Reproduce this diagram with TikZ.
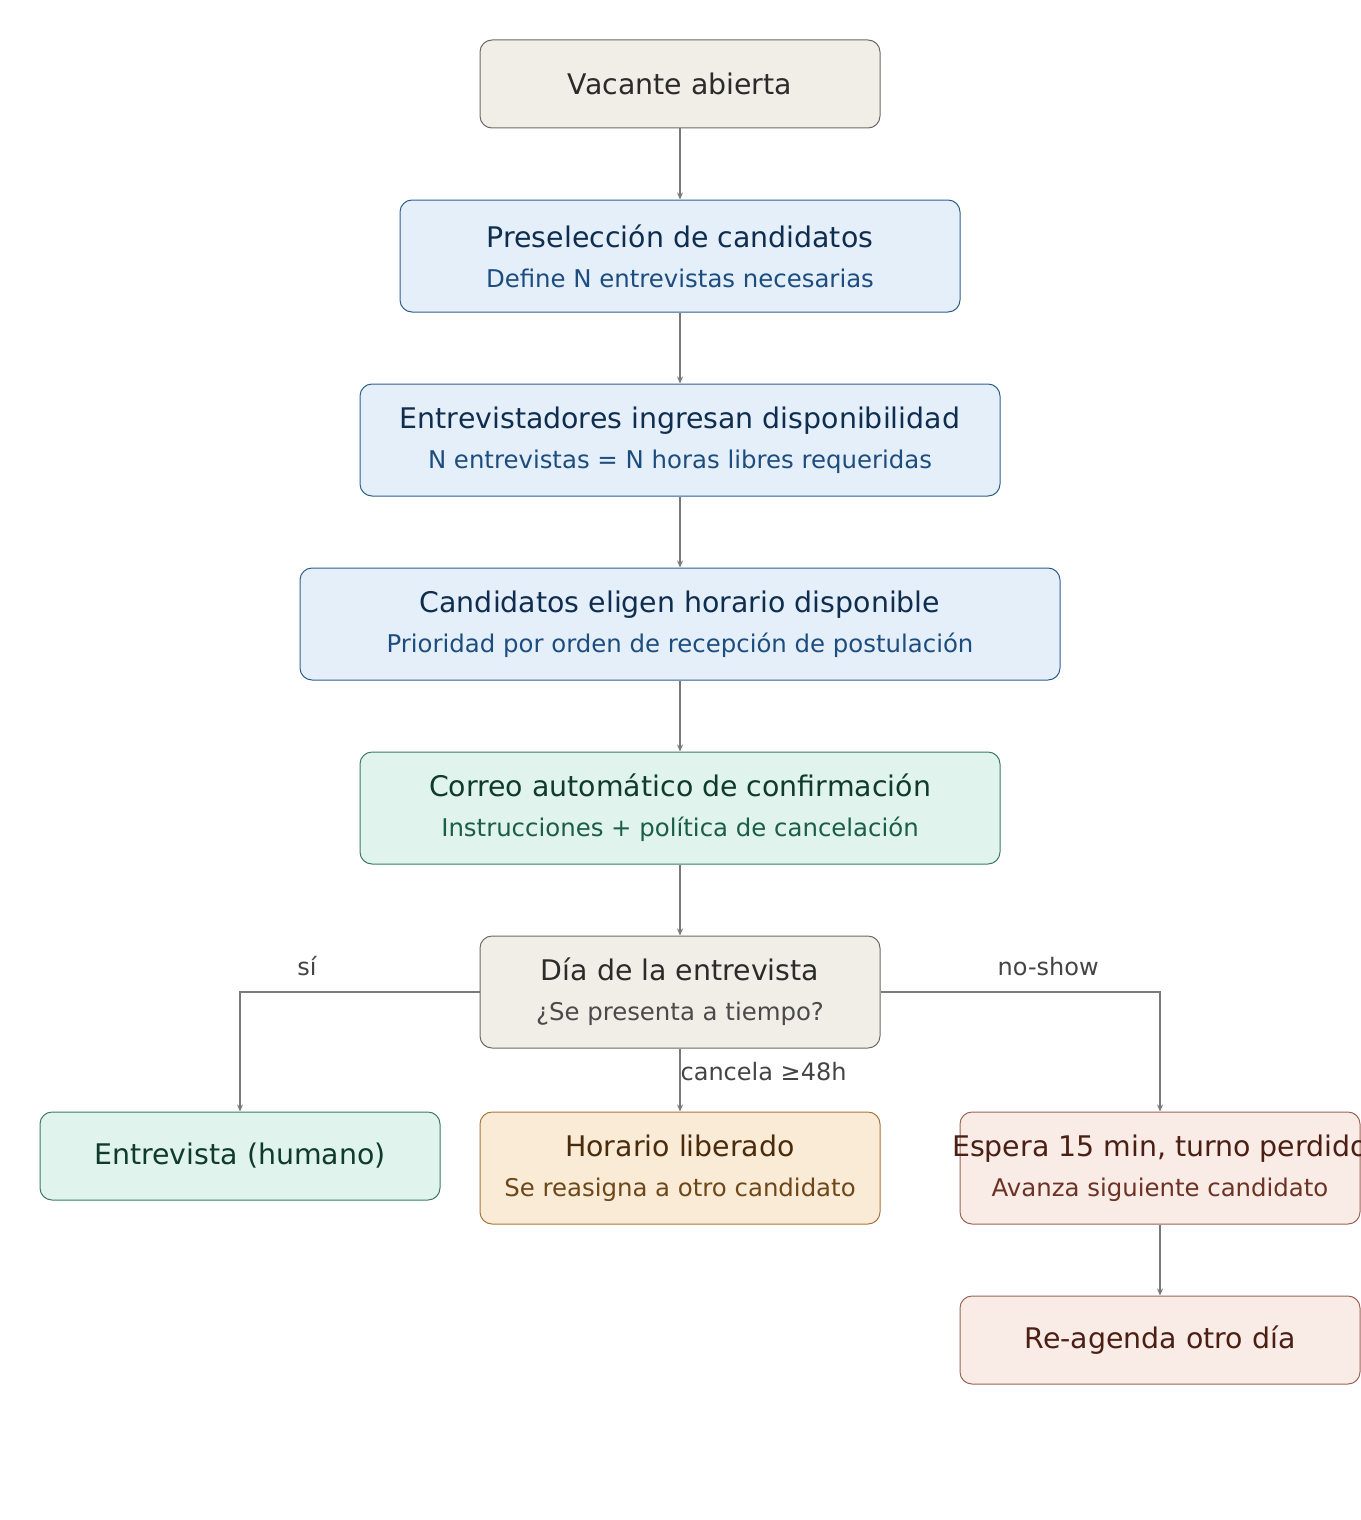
\documentclass[tikz,border=0pt]{standalone}
\usepackage{fontspec}
\setmainfont{DejaVu Sans}
\usetikzlibrary{arrows.meta}

\definecolor{grisfondo}{HTML}{F1EEE8}
\definecolor{grisborde}{HTML}{6E6A64}
\definecolor{gristexto}{HTML}{2B2B2B}
\definecolor{grissub}{HTML}{4A4A4A}
\definecolor{azulfondo}{HTML}{E4EFFA}
\definecolor{azulborde}{HTML}{2F5F8F}
\definecolor{azultexto}{HTML}{0F2D4F}
\definecolor{azulsub}{HTML}{1D4D7E}
\definecolor{verdefondo}{HTML}{E0F3EC}
\definecolor{verdeborde}{HTML}{3A7D62}
\definecolor{verdetexto}{HTML}{0E3B2D}
\definecolor{verdesub}{HTML}{1A5E48}
\definecolor{naranjafondo}{HTML}{FAEBD7}
\definecolor{naranjaborde}{HTML}{A8743A}
\definecolor{naranjatexto}{HTML}{4A2C0C}
\definecolor{naranjasub}{HTML}{6E4718}
\definecolor{rojofondo}{HTML}{F9EBE6}
\definecolor{rojoborde}{HTML}{9C6254}
\definecolor{rojotexto}{HTML}{4B1F14}
\definecolor{rojosub}{HTML}{6C3324}
\definecolor{flecha}{HTML}{7A7A7A}
\definecolor{etiqueta}{HTML}{444444}

% title + subtitle
\newcommand{\dosl}[3]{#1\\{\fontsize{12.2}{20}\selectfont\color{#3}#2}}

\begin{document}
\begin{tikzpicture}[x=0.5pt,y=-0.5pt,
    caja/.style={rounded corners=6pt, line width=0.5pt, inner sep=0pt,
      align=center, font=\fontsize{14.2}{20}\selectfont},
    gris/.style={caja, draw=grisborde, fill=grisfondo, text=gristexto},
    azul/.style={caja, draw=azulborde, fill=azulfondo, text=azultexto},
    verde/.style={caja, draw=verdeborde, fill=verdefondo, text=verdetexto},
    naranja/.style={caja, draw=naranjaborde, fill=naranjafondo, text=naranjatexto},
    rojo/.style={caja, draw=rojoborde, fill=rojofondo, text=rojotexto},
    flujo/.style={draw=flecha, line width=0.6pt, -{Stealth[length=3.5pt,width=3pt]}},
    rotulo/.style={text=etiqueta, font=\fontsize{12}{14}\selectfont}]
    \useasboundingbox (0,0) rectangle (1360,1520);
    % main column
    \node[gris, minimum width=200pt, minimum height=44pt] (vacante) at (680,84) {Vacante abierta};
    \node[azul, minimum width=280pt, minimum height=56pt] (presel) at (680,256)
      {\dosl{Preselección de candidatos}{Define N entrevistas necesarias}{azulsub}};
    \node[azul, minimum width=320pt, minimum height=56pt] (dispo) at (680,440)
      {\dosl{Entrevistadores ingresan disponibilidad}{N entrevistas = N horas libres requeridas}{azulsub}};
    \node[azul, minimum width=380pt, minimum height=56pt] (eligen) at (680,624)
      {\dosl{Candidatos eligen horario disponible}{Prioridad por orden de recepción de postulación}{azulsub}};
    \node[verde, minimum width=320pt, minimum height=56pt] (correo) at (680,808)
      {\dosl{Correo automático de confirmación}{Instrucciones + política de cancelación}{verdesub}};
    \node[gris, minimum width=200pt, minimum height=56pt] (dia) at (680,992)
      {\dosl{Día de la entrevista}{¿Se presenta a tiempo?}{grissub}};
    % outcomes
    \node[verde, minimum width=200pt, minimum height=44pt] (humano) at (240,1156) {Entrevista (humano)};
    \node[naranja, minimum width=200pt, minimum height=56pt] (liberado) at (680,1168)
      {\dosl{Horario liberado}{Se reasigna a otro candidato}{naranjasub}};
    \node[rojo, minimum width=200pt, minimum height=56pt] (espera) at (1160,1168)
      {\dosl{\makebox[180pt]{Espera 15 min, turno perdido}}{Avanza siguiente candidato}{rojosub}};
    \node[rojo, minimum width=200pt, minimum height=44pt] (reagenda) at (1160,1340) {Re-agenda otro día};
    % connectors
    \draw[flujo] (vacante) -- (presel);
    \draw[flujo] (presel) -- (dispo);
    \draw[flujo] (dispo) -- (eligen);
    \draw[flujo] (eligen) -- (correo);
    \draw[flujo] (correo) -- (dia);
    \draw[flujo] (dia.west) -| node[rotulo, pos=0.36, above=4.5pt] {sí} (humano.north);
    \draw[flujo] (dia.east) -| node[rotulo, pos=0.3, above=4.5pt] {no-show} (espera.north);
    \draw[flujo] (dia.south) -- node[rotulo, pos=0.36, right, inner sep=0pt] {cancela ≥48h} (liberado.north);
    \draw[flujo] (espera) -- (reagenda);
\end{tikzpicture}
\end{document}
